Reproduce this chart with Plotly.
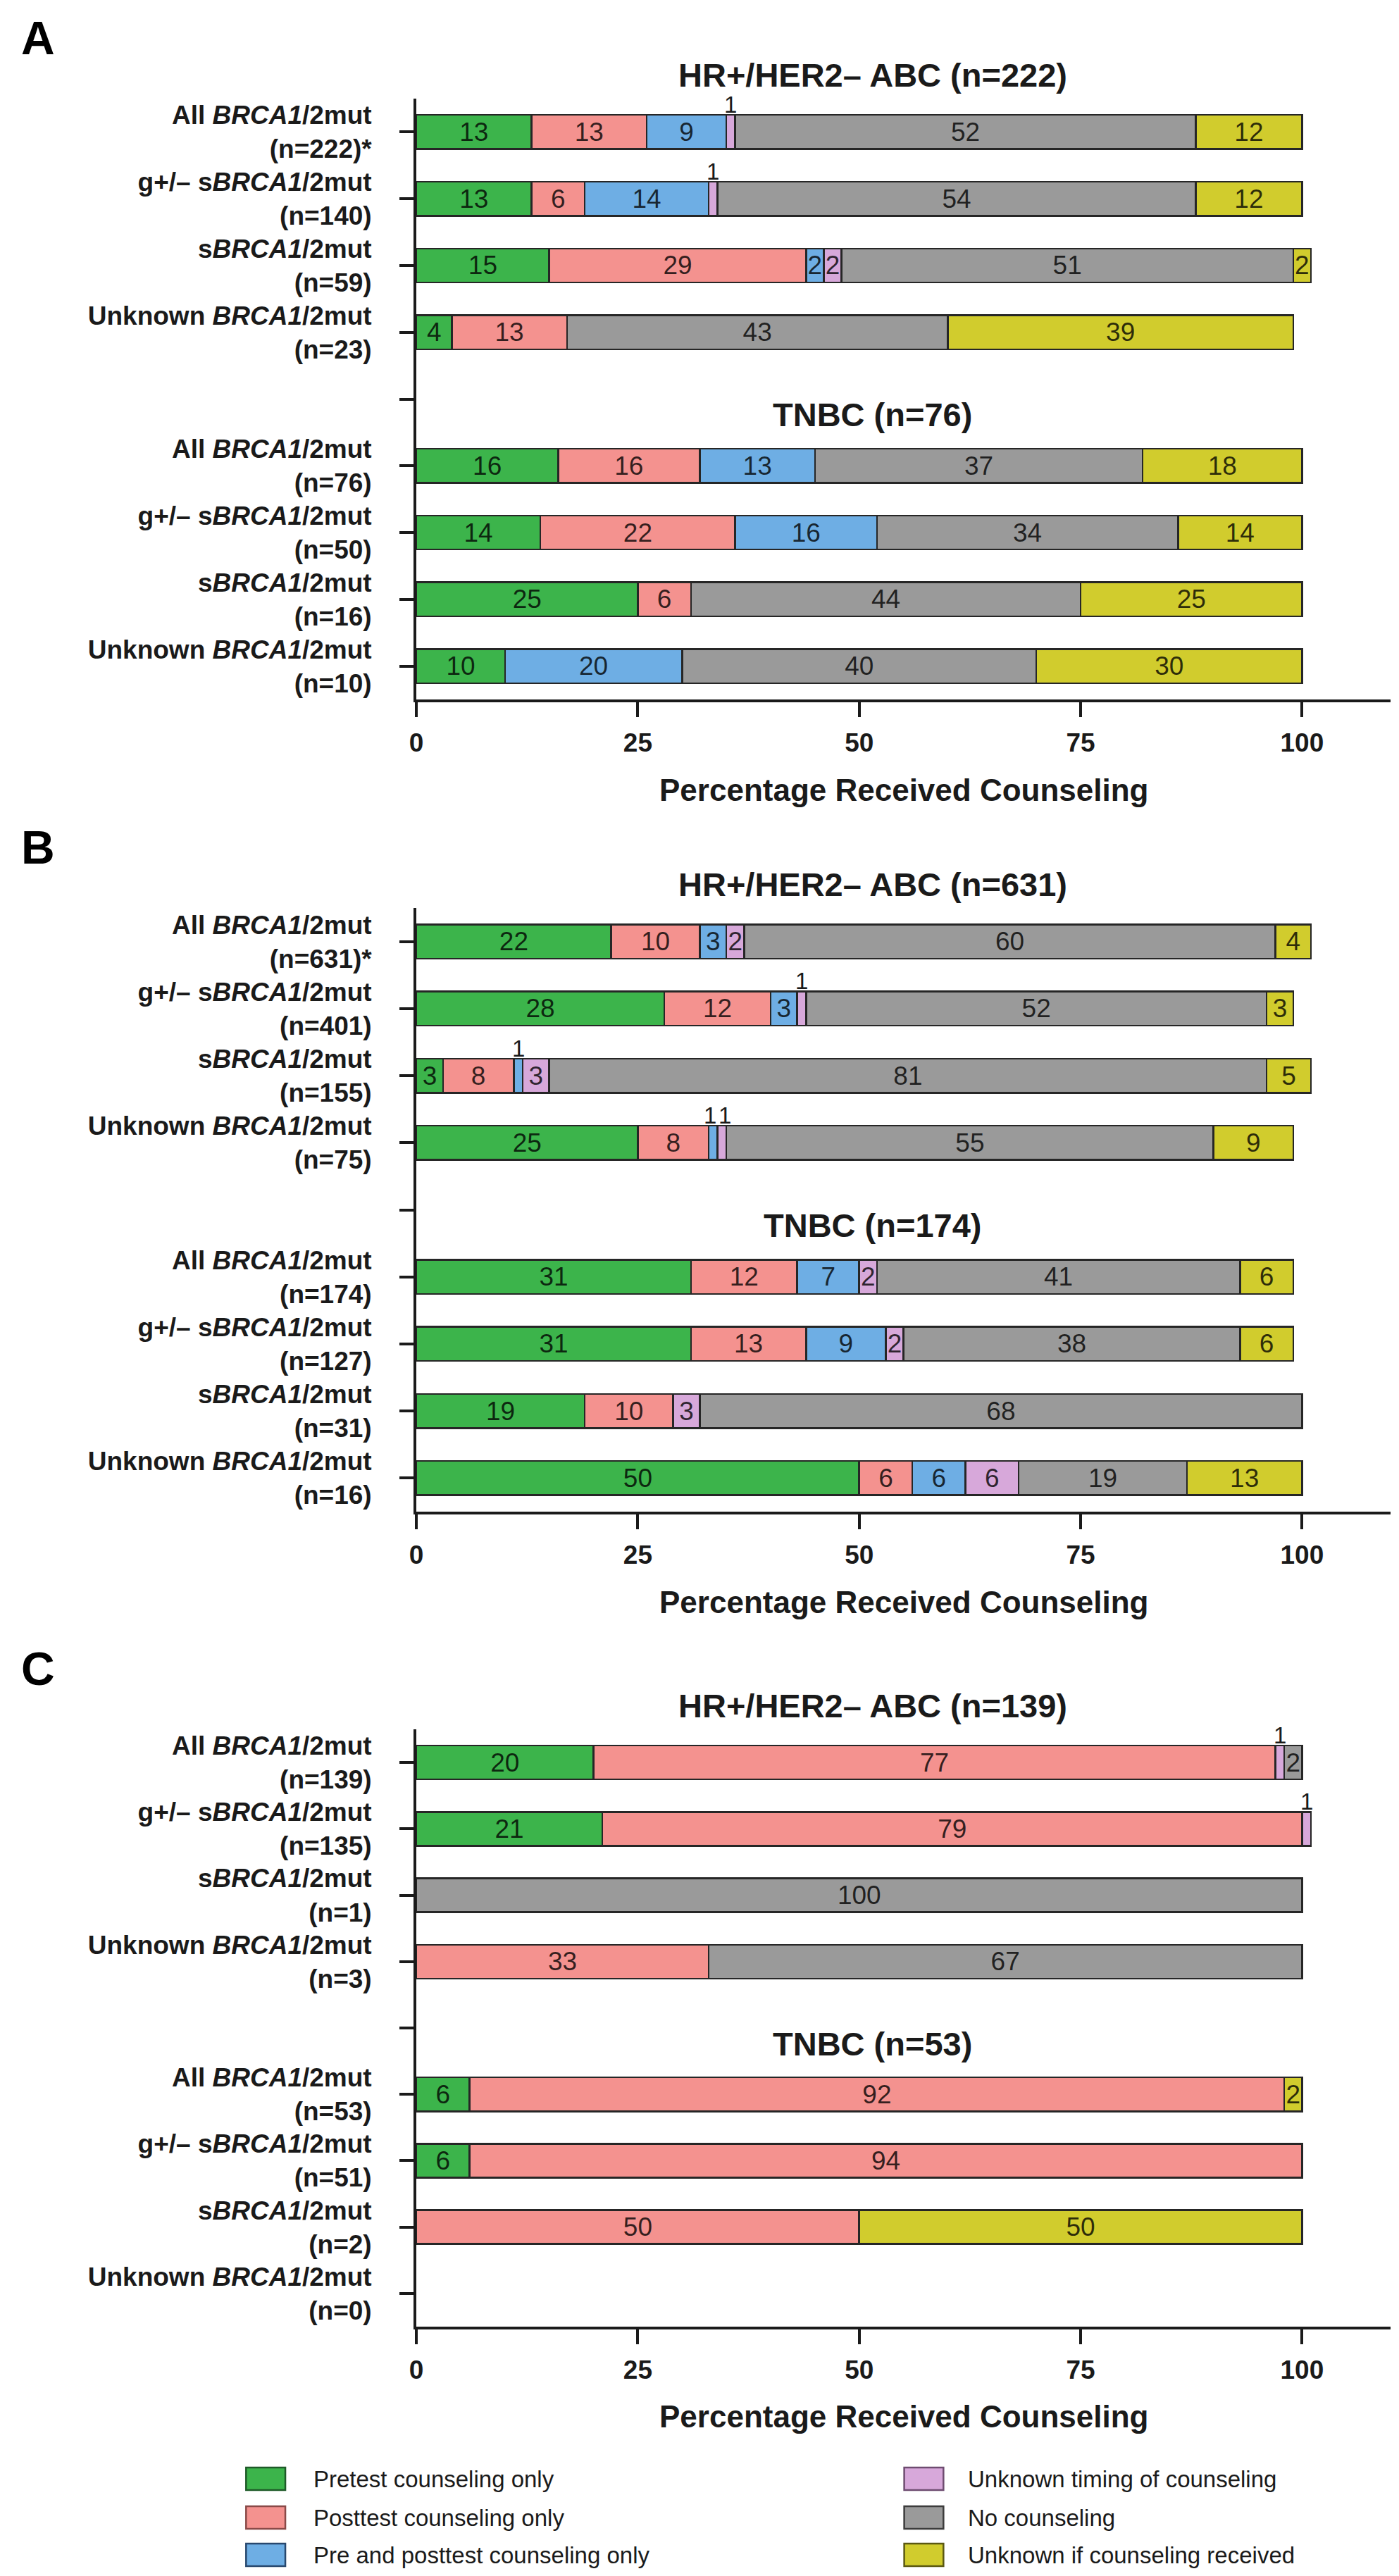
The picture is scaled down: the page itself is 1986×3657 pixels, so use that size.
import plotly.graph_objects as go

# ---------------- data ----------------
series_names = ["Pretest counseling only", "Posttest counseling only",
                "Pre and posttest counseling only", "Unknown timing of counseling",
                "No counseling", "Unknown if counseling received"]
fill_colors = ["#3CB44B", "#F4928F", "#6EAEE4", "#D7A8DA", "#9A9A9A", "#D1CC2D"]
legend_edges = ["#1E5A28", "#8A4A48", "#28486E", "#6E4C70", "#3C3C3C", "#5A5812"]

row_kinds = ["All <i>BRCA1</i>/2mut", "g+/– s<i>BRCA1</i>/2mut",
             "s<i>BRCA1</i>/2mut", "Unknown <i>BRCA1</i>/2mut"]

# Panel A
a_titles = ["HR+/HER2– ABC (n=222)", "TNBC (n=76)"]
a_hr_n = ["(n=222)*", "(n=140)", "(n=59)", "(n=23)"]
a_tn_n = ["(n=76)", "(n=50)", "(n=16)", "(n=10)"]
a_pretest = [13, 13, 15, 4, 16, 14, 25, 10]
a_posttest = [13, 6, 29, 13, 16, 22, 6, 0]
a_prepost = [9, 14, 2, 0, 13, 16, 0, 20]
a_unknown_timing = [1, 1, 2, 0, 0, 0, 0, 0]
a_none = [52, 54, 51, 43, 37, 34, 44, 40]
a_unknown_if = [12, 12, 2, 39, 18, 14, 25, 30]

# Panel B
b_titles = ["HR+/HER2– ABC (n=631)", "TNBC (n=174)"]
b_hr_n = ["(n=631)*", "(n=401)", "(n=155)", "(n=75)"]
b_tn_n = ["(n=174)", "(n=127)", "(n=31)", "(n=16)"]
b_pretest = [22, 28, 3, 25, 31, 31, 19, 50]
b_posttest = [10, 12, 8, 8, 12, 13, 10, 6]
b_prepost = [3, 3, 1, 1, 7, 9, 0, 6]
b_unknown_timing = [2, 1, 3, 1, 2, 2, 3, 6]
b_none = [60, 52, 81, 55, 41, 38, 68, 19]
b_unknown_if = [4, 3, 5, 9, 6, 6, 0, 13]

# Panel C
c_titles = ["HR+/HER2– ABC (n=139)", "TNBC (n=53)"]
c_hr_n = ["(n=139)", "(n=135)", "(n=1)", "(n=3)"]
c_tn_n = ["(n=53)", "(n=51)", "(n=2)", "(n=0)"]
c_pretest = [20, 21, 0, 0, 6, 6, 0, 0]
c_posttest = [77, 79, 0, 33, 92, 94, 50, 0]
c_prepost = [0, 0, 0, 0, 0, 0, 0, 0]
c_unknown_timing = [1, 1, 0, 0, 0, 0, 0, 0]
c_none = [2, 0, 100, 67, 0, 0, 0, 0]
c_unknown_if = [0, 0, 0, 0, 2, 0, 50, 0]

x_ticks = [0, 25, 50, 75, 100]
x_title = "Percentage Received Counseling"

# ---------------- layout constants ----------------
W, H = 1986, 3657
FONT = "Liberation Sans, Arial, sans-serif"
INK = "#1a1a1a"
X_DOMAIN = [576 / W, 1966 / W]
panels = [
    dict(letter="A", titles=a_titles, hr_n=a_hr_n, tn_n=a_tn_n,
         data=[a_pretest, a_posttest, a_prepost, a_unknown_timing, a_none, a_unknown_if],
         top=132, bottom=985),
    dict(letter="B", titles=b_titles, hr_n=b_hr_n, tn_n=b_tn_n,
         data=[b_pretest, b_posttest, b_prepost, b_unknown_timing, b_none, b_unknown_if],
         top=1281, bottom=2138),
    dict(letter="C", titles=c_titles, hr_n=c_hr_n, tn_n=c_tn_n,
         data=[c_pretest, c_posttest, c_prepost, c_unknown_timing, c_none, c_unknown_if],
         top=2447, bottom=3295),
]

fig = go.Figure()
layout = {}
annotations = []
shapes = []

for p_i, p in enumerate(panels):
    sfx = "" if p_i == 0 else str(p_i + 1)
    xa, ya = "x" + sfx, "y" + sfx
    gap = f"gap{p_i}"
    hr_rows = [f"{k}<br>{n}" for k, n in zip(row_kinds, p["hr_n"])]
    tn_rows = [f"{k}<br>{n}" for k, n in zip(row_kinds, p["tn_n"])]
    cats = hr_rows + [gap] + tn_rows
    rows = hr_rows + tn_rows

    for s_i, vals in enumerate(p["data"]):
        fig.add_trace(go.Bar(
            orientation="h", y=rows, x=[v if v > 0 else None for v in vals],
            name=series_names[s_i], showlegend=False, hoverinfo="skip",
            marker=dict(color=fill_colors[s_i], line=dict(color="#262626", width=2.5)),
            text=[str(v) if v > 1 else "" for v in vals],
            textposition="inside", insidetextanchor="middle", textangle=0,
            constraintext="none",
            textfont=dict(family=FONT, size=37, color="rgba(0,0,0,0.78)"),
            xaxis=xa, yaxis=ya))

    # labels of 1% segments, written above the bar
    for r_i, row in enumerate(rows):
        cum = 0
        vals_row = [p["data"][s][r_i] for s in range(len(p["data"]))]
        for s_i, v in enumerate(vals_row):
            if v == 1:
                prev_one = s_i > 0 and vals_row[s_i - 1] == 1
                next_one = s_i + 1 < len(vals_row) and vals_row[s_i + 1] == 1
                shift = -4 if next_one else (4 if prev_one else 0)
                annotations.append(dict(
                    x=cum + v / 2, y=cats.index(row), xref=xa, yref=ya, text="1",
                    showarrow=False, yshift=39, xshift=shift,
                    font=dict(family=FONT, size=33, color=INK)))
            cum += v

    layout["xaxis" + sfx] = dict(
        domain=X_DOMAIN, range=[0, 110], anchor=ya, tickmode="array",
        tickvals=x_ticks, ticks="outside", ticklen=21, tickwidth=4, tickcolor=INK,
        showline=True, linewidth=4, linecolor=INK, showgrid=False, zeroline=False,
        ticklabelstandoff=5,
        tickfont=dict(family=FONT, size=37, color=INK, weight="bold"))
    layout["yaxis" + sfx] = dict(
        domain=[1 - p["bottom"] / H, 1 - p["top"] / H], anchor=xa, type="category",
        categoryorder="array", categoryarray=cats, tickmode="array", tickvals=cats,
        ticktext=["" if c == gap else c for c in cats],
        range=[len(cats) - 0.5, -0.5], ticks="outside", ticklen=20, tickwidth=4,
        tickcolor=INK, showline=True, linewidth=4, linecolor=INK, showgrid=False,
        zeroline=False, ticklabelstandoff=32,
        tickfont=dict(family=FONT, size=37, color=INK, weight="bold"))

    # group titles
    annotations.append(dict(x=1227 / W, xref="paper", y=0, yref=ya, yshift=81,
                            text=p["titles"][0], showarrow=False,
                            font=dict(family=FONT, size=47, color=INK, weight="bold")))
    annotations.append(dict(x=1227 / W, xref="paper", y=cats.index(gap), yref=ya,
                            yshift=-22, text=p["titles"][1], showarrow=False,
                            font=dict(family=FONT, size=47, color=INK, weight="bold")))
    # panel letter
    annotations.append(dict(x=36 / W, xref="paper", y=1, yref=ya + " domain", yshift=86,
                            text=p["letter"], showarrow=False, xanchor="center",
                            yanchor="middle",
                            font=dict(family=FONT, size=66, color="#000", weight="bold")))
    # x axis title
    annotations.append(dict(x=0.5, xref=xa + " domain", y=0, yref=ya + " domain",
                            yshift=-128, text=x_title, showarrow=False,
                            yanchor="middle",
                            font=dict(family=FONT, size=44, color=INK, weight="bold")))

# ---------------- manual legend (two columns) ----------------
leg_cx = [361, 1300]
leg_text_x = [427, 1361]
leg_cy = [3511, 3566, 3619]
for i, name in enumerate(series_names):
    col, row = i // 3, i % 3
    cx, cy = leg_cx[col], leg_cy[row]
    shapes.append(dict(type="rect", xref="paper", yref="paper",
                       x0=(cx - 28) / W, x1=(cx + 28) / W,
                       y0=1 - (cy + 16) / H, y1=1 - (cy - 16) / H,
                       fillcolor=fill_colors[i], line=dict(color=legend_edges[i], width=2.5)))
    annotations.append(dict(x=leg_text_x[col] / W, xref="paper", y=1 - cy / H, yref="paper",
                            text=name, showarrow=False, xanchor="left", yanchor="middle",
                            font=dict(family=FONT, size=33, color=INK)))

fig.update_layout(
    width=W, height=H, margin=dict(l=0, r=0, t=0, b=0),
    paper_bgcolor="white", plot_bgcolor="white",
    barmode="stack", bargap=0.49, showlegend=False,
    annotations=annotations, shapes=shapes, **layout)

fig.write_html("out.html")
